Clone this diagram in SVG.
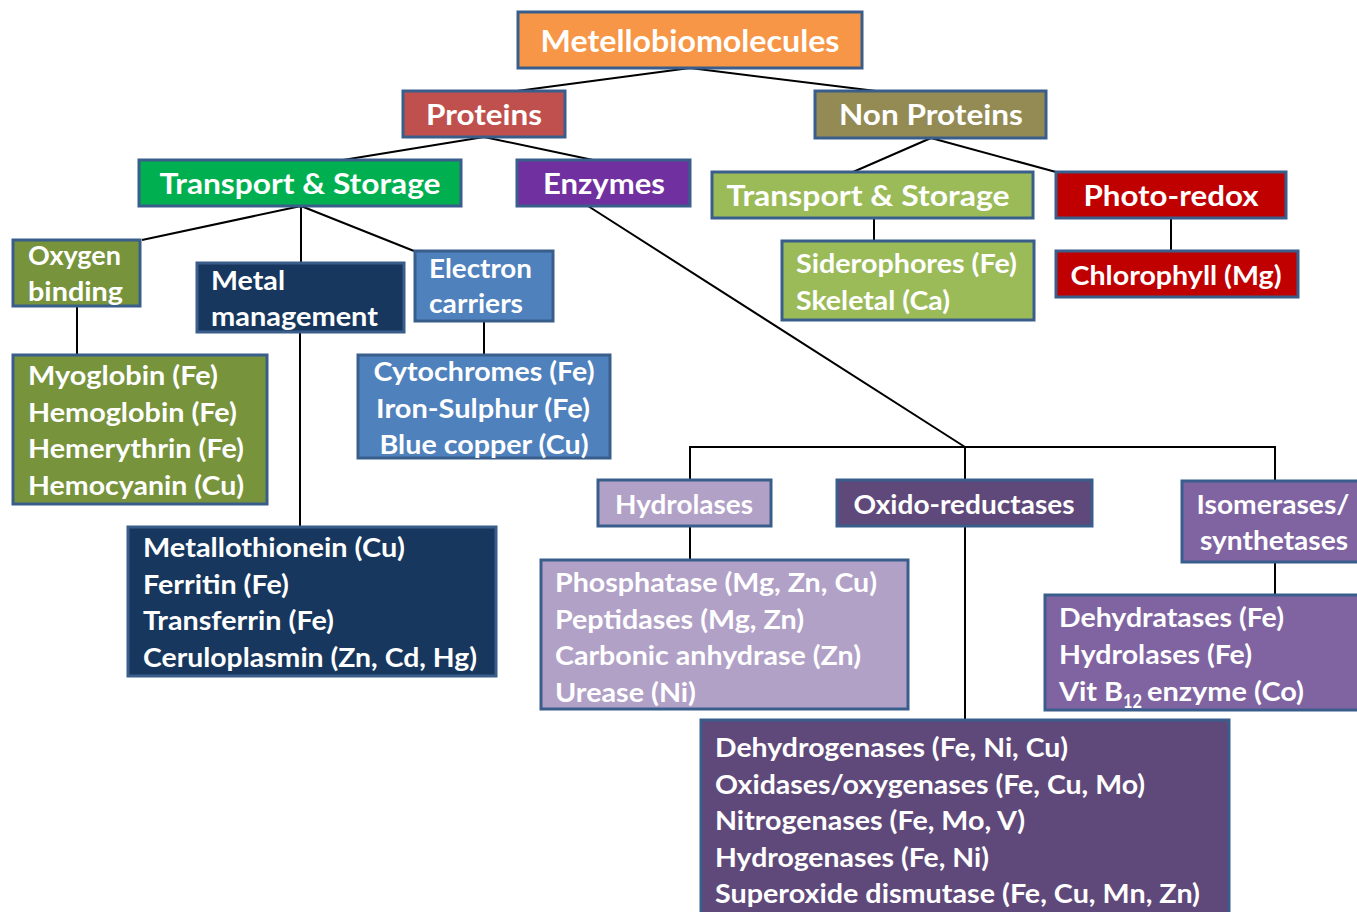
<svg xmlns="http://www.w3.org/2000/svg" width="1357" height="912" viewBox="0 0 1357 912">
<style>
.b{stroke:#3A5E8C;stroke-width:3}
.t{font-family:Lato,"Open Sans","Liberation Sans",sans-serif;font-weight:bold;fill:#fff;font-size:27px}
.h{font-size:29px}
.c{text-anchor:middle}
.ln{stroke:#000;stroke-width:2;fill:none}
</style>
<rect width="1357" height="912" fill="#fff"/>
<g id="connectors">
<path class="ln" d="M690 68L517 91M690 68L876 91"/>
<path class="ln" d="M484 137L343 160M484 137L593 160"/>
<path class="ln" d="M931 138L853 172M931 138L1056 172"/>
<path class="ln" d="M874 218V241M1171 218V251"/>
<path class="ln" d="M301 206L142 240M301 206V263M301 206L414 251"/>
<path class="ln" d="M300 332V527M77 306V355M484 321V355"/>
<path class="ln" d="M588 206L965 447M690 480V447H1275V481M965 447V480"/>
<path class="ln" d="M690 526V560M965 526V720M1275 562V595"/>
</g>
<g id="metellobiomolecules"><rect class="b" x="518" y="12" width="344" height="56" fill="#F79646"/><text class="t h c" x="690" y="52" textLength="299" lengthAdjust="spacingAndGlyphs" style="font-size:31px">Metellobiomolecules</text></g>
<g id="proteins"><rect class="b" x="403" y="91" width="162" height="46" fill="#C0504D"/><text class="t h c" x="484" y="125" textLength="116" lengthAdjust="spacingAndGlyphs">Proteins</text></g>
<g id="non-proteins"><rect class="b" x="815" y="91" width="231" height="47" fill="#948A54"/><text class="t h c" x="931" y="125" textLength="184" lengthAdjust="spacingAndGlyphs">Non Proteins</text></g>
<g id="transport-storage-1"><rect class="b" x="139" y="160" width="322" height="46" fill="#00B050"/><text class="t h c" x="300" y="194" textLength="281" lengthAdjust="spacingAndGlyphs">Transport &amp; Storage</text></g>
<g id="enzymes"><rect class="b" x="517" y="160" width="173" height="46" fill="#7030A0"/><text class="t h c" x="604" y="194" textLength="122" lengthAdjust="spacingAndGlyphs">Enzymes</text></g>
<g id="transport-storage-2"><rect class="b" x="712" y="172" width="321" height="46" fill="#9BBB59"/><text class="t h c" x="868" y="206" textLength="283" lengthAdjust="spacingAndGlyphs">Transport &amp; Storage</text></g>
<g id="photo-redox"><rect class="b" x="1056" y="172" width="230" height="46" fill="#C00000"/><text class="t h c" x="1171" y="206" textLength="175" lengthAdjust="spacingAndGlyphs">Photo-redox</text></g>
<g id="siderophores"><rect class="b" x="782" y="241" width="252" height="79" fill="#9BBB59"/><text class="t" x="796" y="273" textLength="221" lengthAdjust="spacingAndGlyphs">Siderophores (Fe)</text><text class="t" x="796" y="310" textLength="154" lengthAdjust="spacingAndGlyphs">Skeletal (Ca)</text></g>
<g id="chlorophyll"><rect class="b" x="1056" y="251" width="242" height="46" fill="#C00000"/><text class="t c" x="1176" y="285" textLength="211" lengthAdjust="spacingAndGlyphs">Chlorophyll (Mg)</text></g>
<g id="oxygen-binding"><rect class="b" x="13" y="240" width="127" height="66" fill="#77933C"/><text class="t" x="28" y="265" textLength="93" lengthAdjust="spacingAndGlyphs">Oxygen</text><text class="t" x="28" y="301" textLength="95" lengthAdjust="spacingAndGlyphs">binding</text></g>
<g id="metal-management"><rect class="b" x="197" y="263" width="207" height="69" fill="#17375E"/><text class="t" x="211" y="290" textLength="74" lengthAdjust="spacingAndGlyphs">Metal</text><text class="t" x="211" y="326" textLength="167" lengthAdjust="spacingAndGlyphs">management</text></g>
<g id="electron-carriers"><rect class="b" x="415" y="251" width="138" height="70" fill="#4F81BD"/><text class="t" x="429" y="278" textLength="103" lengthAdjust="spacingAndGlyphs">Electron</text><text class="t" x="429" y="313" textLength="94" lengthAdjust="spacingAndGlyphs">carriers</text></g>
<g id="oxygen-list"><rect class="b" x="13" y="355" width="254" height="149" fill="#77933C"/><text class="t" x="28" y="385" textLength="190" lengthAdjust="spacingAndGlyphs">Myoglobin (Fe)</text><text class="t" x="28" y="422" textLength="209" lengthAdjust="spacingAndGlyphs">Hemoglobin (Fe)</text><text class="t" x="28" y="458" textLength="216" lengthAdjust="spacingAndGlyphs">Hemerythrin (Fe)</text><text class="t" x="28" y="495" textLength="216" lengthAdjust="spacingAndGlyphs">Hemocyanin (Cu)</text></g>
<g id="electron-list"><rect class="b" x="358" y="355" width="252" height="103" fill="#4F81BD"/><text class="t c" x="484" y="381" textLength="221" lengthAdjust="spacingAndGlyphs">Cytochromes (Fe)</text><text class="t c" x="483" y="418" textLength="214" lengthAdjust="spacingAndGlyphs">Iron-Sulphur (Fe)</text><text class="t c" x="484" y="454" textLength="209" lengthAdjust="spacingAndGlyphs">Blue copper (Cu)</text></g>
<g id="metal-list"><rect class="b" x="128" y="527" width="368" height="149" fill="#17375E"/><text class="t" x="143" y="557" textLength="262" lengthAdjust="spacingAndGlyphs">Metallothionein (Cu)</text><text class="t" x="143" y="594" textLength="146" lengthAdjust="spacingAndGlyphs">Ferritin (Fe)</text><text class="t" x="143" y="630" textLength="191" lengthAdjust="spacingAndGlyphs">Transferrin (Fe)</text><text class="t" x="143" y="667" textLength="334" lengthAdjust="spacingAndGlyphs">Ceruloplasmin (Zn, Cd, Hg)</text></g>
<g id="hydrolases"><rect class="b" x="598" y="480" width="173" height="46" fill="#B2A1C7"/><text class="t c" x="684" y="514" textLength="138" lengthAdjust="spacingAndGlyphs">Hydrolases</text></g>
<g id="oxido-reductases"><rect class="b" x="837" y="480" width="255" height="46" fill="#5F497A"/><text class="t c" x="964" y="514" textLength="221" lengthAdjust="spacingAndGlyphs">Oxido-reductases</text></g>
<g id="isomerases"><rect class="b" x="1182" y="481" width="180" height="81" fill="#8064A2"/><text class="t c" x="1273" y="514" textLength="153" lengthAdjust="spacingAndGlyphs">Isomerases/</text><text class="t c" x="1274" y="550" textLength="148" lengthAdjust="spacingAndGlyphs">synthetases</text></g>
<g id="hydrolases-list"><rect class="b" x="541" y="560" width="367" height="149" fill="#B2A1C7"/><text class="t" x="555" y="592" textLength="322" lengthAdjust="spacingAndGlyphs">Phosphatase (Mg, Zn, Cu)</text><text class="t" x="555" y="629" textLength="249" lengthAdjust="spacingAndGlyphs">Peptidases (Mg, Zn)</text><text class="t" x="555" y="665" textLength="306" lengthAdjust="spacingAndGlyphs">Carbonic anhydrase (Zn)</text><text class="t" x="555" y="702" textLength="141" lengthAdjust="spacingAndGlyphs">Urease (Ni)</text></g>
<g id="isomerases-list"><rect class="b" x="1045" y="595" width="317" height="115" fill="#8064A2"/><text class="t" x="1059" y="627" textLength="225" lengthAdjust="spacingAndGlyphs">Dehydratases (Fe)</text><text class="t" x="1059" y="664" textLength="193" lengthAdjust="spacingAndGlyphs">Hydrolases (Fe)</text><text class="t" x="1059" y="701" textLength="64" lengthAdjust="spacingAndGlyphs">Vit B</text><text class="t" x="1123" y="708" style="font-size:19px" textLength="19" lengthAdjust="spacingAndGlyphs">12</text><text class="t" x="1147" y="701" textLength="157" lengthAdjust="spacingAndGlyphs">enzyme (Co)</text></g>
<g id="oxido-list"><rect class="b" x="701" y="720" width="528" height="210" fill="#5F497A"/><text class="t" x="715" y="757" textLength="353" lengthAdjust="spacingAndGlyphs">Dehydrogenases (Fe, Ni, Cu)</text><text class="t" x="715" y="794" textLength="430" lengthAdjust="spacingAndGlyphs">Oxidases/oxygenases (Fe, Cu, Mo)</text><text class="t" x="715" y="830" textLength="310" lengthAdjust="spacingAndGlyphs">Nitrogenases (Fe, Mo, V)</text><text class="t" x="715" y="867" textLength="274" lengthAdjust="spacingAndGlyphs">Hydrogenases (Fe, Ni)</text><text class="t" x="715" y="903" textLength="485" lengthAdjust="spacingAndGlyphs">Superoxide dismutase (Fe, Cu, Mn, Zn)</text></g>
</svg>
